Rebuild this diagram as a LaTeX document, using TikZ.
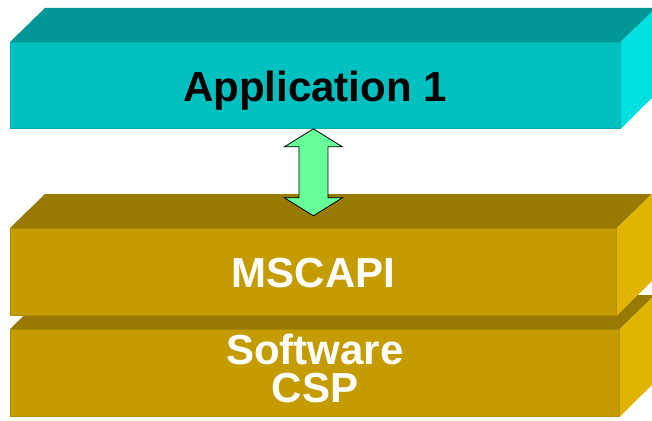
\documentclass[tikz,border=0pt]{standalone}
\usepackage{fontspec}
\setmainfont{Liberation Sans}
\definecolor{tealfront}{RGB}{0,192,192}
\definecolor{tealtop}{RGB}{0,150,150}
\definecolor{tealside}{RGB}{0,224,224}
\definecolor{goldfront}{RGB}{196,156,0}
\definecolor{goldtop}{RGB}{153,122,0}
\definecolor{goldside}{RGB}{224,180,0}
\definecolor{linkgreen}{RGB}{102,255,153}

\begin{document}
\begin{tikzpicture}[x=1pt,y=-1pt,%
  % common options for the front faces of the slabs:
  slab/.style = {anchor=north west, inner sep=0, line width=0.8pt,
              minimum height=#1},
  % common options for the captions:
  caption/.style = {inner sep=0, align=center,
              font=\fontsize{42}{38}\selectfont\bfseries},
  % the two way arrow between the layers:
  link/.style = {draw=black, fill=linkgreen, line width=0.8pt,
              line join=miter}]

\useasboundingbox (0,0) rectangle (652,420);

% bottom slab: software csp
\node[slab=87pt,minimum width=609pt,fill=goldfront,draw=goldfront!90!black]
  (csp) at (10,329) {};
\fill[goldtop] (csp.north west) -- ++(35,-34)
  -- ([shift={(35,-34)}]csp.north east) -- (csp.north east) -- cycle;
\fill[goldside] (csp.north east) -- ++(35,-34) -- ++(0,87)
  -- (csp.south east) -- cycle;

% middle slab: mscapi
\node[slab=87pt,minimum width=606pt,fill=goldfront,draw=goldfront!90!black]
  (capi) at (10,228) {};
\fill[goldtop] (capi.north west) -- ++(35,-34)
  -- ([shift={(35,-34)}]capi.north east) -- (capi.north east) -- cycle;
\fill[goldside] (capi.north east) -- ++(35,-34) -- ++(0,87)
  -- (capi.south east) -- cycle;

% top slab: the application
\node[slab=86pt,minimum width=610pt,fill=tealfront,draw=tealfront!90!black]
  (app) at (10,42) {};
\fill[tealtop] (app.north west) -- ++(35,-34)
  -- ([shift={(35,-34)}]app.north east) -- (app.north east) -- cycle;
\fill[tealside] (app.north east) -- ++(35,-34) -- ++(0,86)
  -- (app.south east) -- cycle;

% captions on the front faces
\node[caption,anchor=base,text=black] (apptext) at (315,101.7)
  {Application 1};
\node[caption,anchor=base,text=white] (capitext) at (313.5,287.7)
  {MSCAPI};
\node[caption,anchor=center,text=white] (csptext) at (315,368.5)
  {Software\\CSP};

% arrow between application and mscapi
\draw[link] ([xshift=-2pt]app.south) -- ++(29,18) -- ++(-14.5,0)
  -- ++(0,51) -- ++(14.5,0) -- ++(-29,18) -- ++(-29,-18)
  -- ++(14.5,0) -- ++(0,-51) -- ++(-14.5,0) -- cycle;
\end{tikzpicture}
\end{document}
